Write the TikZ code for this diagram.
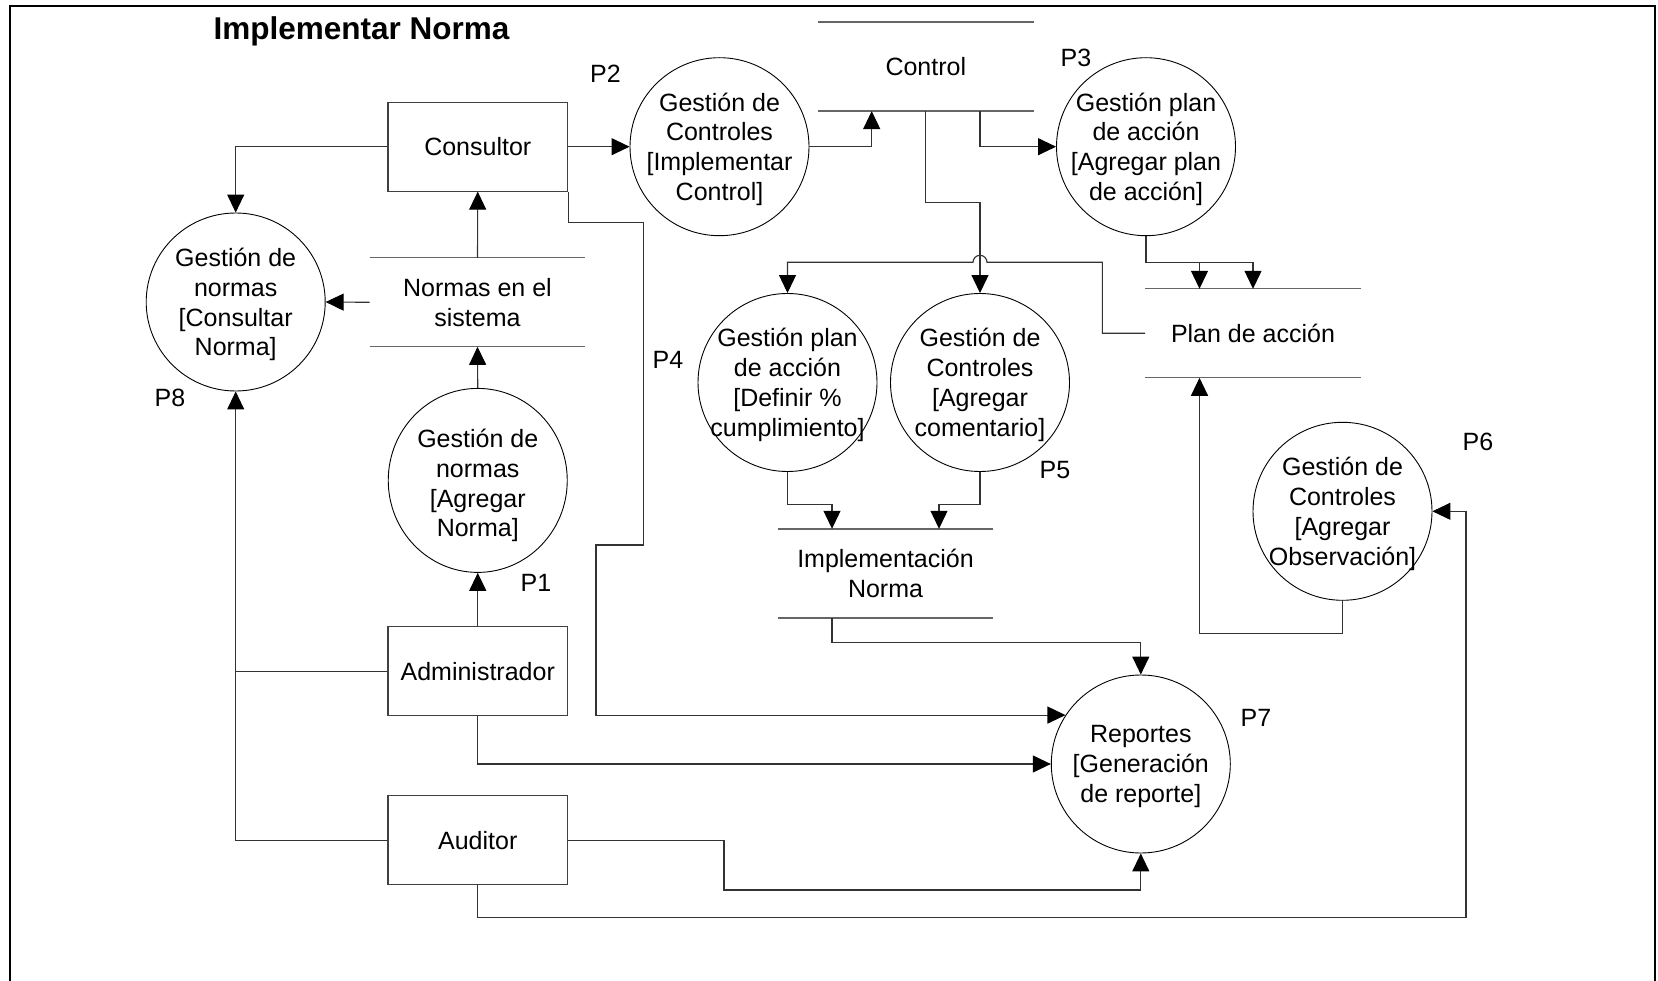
\documentclass[tikz,border=0pt]{standalone}
\usepackage{fontspec}
\setmainfont{Liberation Sans}
\usetikzlibrary{arrows.meta,shapes.geometric}
\begin{document}
\begin{tikzpicture}[x=1pt,y=-1pt,
  every node/.style={font=\fontsize{25}{29.8}\selectfont, inner sep=0pt},
  actor/.style={draw=black!75, line width=1.1pt, minimum width=179.5pt, minimum height=88.8pt},
  proc/.style={ellipse, draw=black, line width=0.9pt, minimum width=179pt, minimum height=178pt},
  ptext/.style={align=center, yshift=-2.5pt},
  store/.style={minimum width=215.5pt, minimum height=88.6pt, align=center},
  storeline/.style={draw=black!60, line width=1.4pt},
  line/.style={draw=black!80, line width=1.1pt},
  flow/.style={line, -{Triangle[length=18pt,width=17pt,color=black]}}
]
\useasboundingbox (0,0) rectangle (1658,981);

% outer frame
\draw[line width=2pt] (9.5,995) -- (9.5,6) -- (1655,6) -- (1655,995);

% title
\node[font=\bfseries\fontsize{31.5}{36}\selectfont, anchor=base] (title) at (361.5,39.8) {Implementar Norma};

% external entities
\node[actor] (cons)  at (477.75,146.7) {Consultor};
\node[actor] (admin) at (477.75,671.2) {Administrador};
\node[actor] (aud)   at (477.75,840.3) {Auditor};

% data stores
\node[store] (ctl)    at (925.8,66.6)  {Control};
\node[store] (normas) at (477.5,302.3) {Normas en el\\sistema};
\node[store] (plan)   at (1253,333.3)  {Plan de acción};
\node[store] (impl)   at (885.5,573.3) {Implementación\\Norma};
\foreach \s in {ctl,normas,plan,impl}
  \draw[storeline] (\s.north west) -- (\s.north east) (\s.south west) -- (\s.south east);

% processes
\node[proc] (c8) at (235.7,302) {};
\node[proc, minimum height=184pt] (c1) at (477.75,480.4) {};
\node[proc] (c2) at (719.5,146.7) {};
\node[proc] (c3) at (1146,146.7) {};
\node[proc] (c4) at (787.5,382.5) {};
\node[proc] (c5) at (980,382.5) {};
\node[proc] (c6) at (1342.5,511.3) {};
\node[proc] (c7) at (1140.8,764) {};

\node[ptext] (t8) at (c8) {Gestión de\\normas\\{[}Consultar\\Norma]};
\node[ptext] (t1) at (477.75,483) {Gestión de\\normas\\{[}Agregar\\Norma]};
\node[ptext] (t2) at (c2) {Gestión de\\Controles\\{[}Implementar\\Control]};
\node[ptext] (t3) at (c3) {Gestión plan\\de acción\\{[}Agregar plan\\de acción]};
\node[ptext] (t4) at (c4) {Gestión plan\\de acción\\{[}Definir \%\\cumplimiento]};
\node[ptext] (t5) at (c5) {Gestión de\\Controles\\{[}Agregar\\comentario]};
\node[ptext] (t6) at (c6) {Gestión de\\Controles\\{[}Agregar\\Observación]};
\node[ptext] (t7) at (c7) {Reportes\\{[}Generación\\de reporte]};

% process numbers
\node (p1) at (536,583)    {P1};
\node (p2) at (605.4,73.3) {P2};
\node (p3) at (1076,58)    {P3};
\node (p4) at (668,360)    {P4};
\node (p5) at (1055,470)   {P5};
\node (p6) at (1478,442)   {P6};
\node (p7) at (1256,718)   {P7};
\node (p8) at (170,398)    {P8};

% flows around the consultant
\draw[flow] (cons.east) -- (c2.west);
\draw[flow] (cons.west) -| (c8.north);
\draw[flow] (normas.north) -- (cons.south);
\draw[flow] (normas.west) -- (c8.east);
\draw[flow] (c1.north) -- (normas.south);
\draw[flow] (admin.north) -- (c1.south);
\draw[flow] (cons.south east) |- (643.7,222.3) |- (596,545) |- (c7.147);

% administrator and auditor
\draw[flow] (aud.west) -| (c8.south);
\draw[line] (admin.west) -- (admin.west -| c8.south);
\draw[flow] (admin.south) |- (c7.west);
\draw[flow] (aud.east) -| (724,890) -| (c7.south);
\draw[flow] (aud.south) |- (1466,917.7) |- (c6.east);

% control store
\draw[flow] (c2.east) -| (871.7,0 |- ctl.south);
\draw[flow] (980,0 |- ctl.south) |- (c3.west);
\draw[flow] (925.7,0 |- ctl.south) |- (980,202.7) -- (c5.north);

% action plan store
\draw[flow] (plan.west) -| (1102.3,262.3) -- (987,262.3)
  arc[start angle=0, end angle=-180, radius=7] -- (787.5,262.3) -- (c4.north);
\draw[flow] (c3.south) |- (plan.north |- 0,262.3) -- (plan.north);
\draw[flow] (1199.5,262.3) -- (1199.5,0 |- plan.north);
\draw[flow] (c6.south) |- (1199.5,633.3) -- (1199.5,0 |- plan.south);

% implementation store
\draw[flow] (c4.south) |- (832,504.3) -- (832,0 |- impl.north);
\draw[flow] (c5.south) |- (939,504.3) -- (939,0 |- impl.north);
\draw[flow] (832,0 |- impl.south) -- (832,642.7) -| (c7.north);
\end{tikzpicture}
\end{document}
